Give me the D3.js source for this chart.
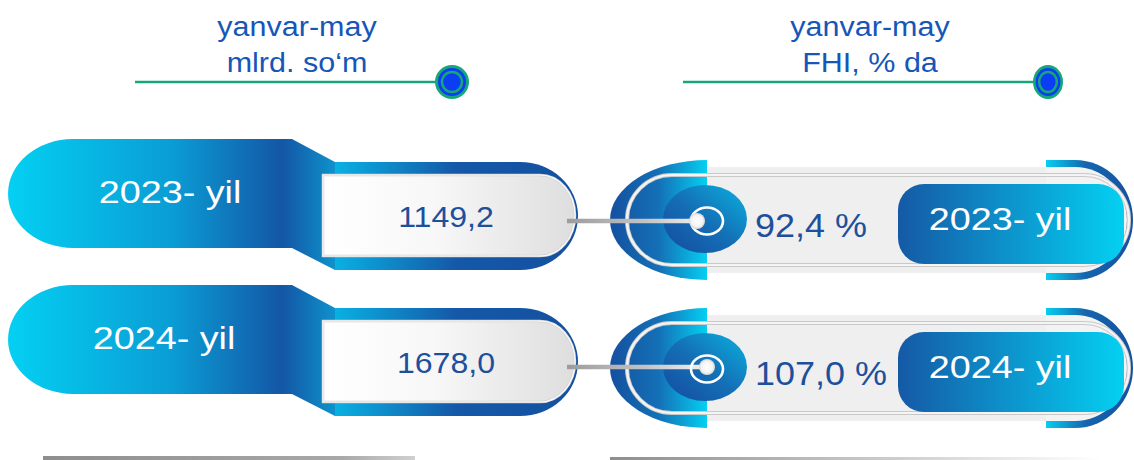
<!DOCTYPE html>
<html>
<head>
<meta charset="utf-8">
<script src="https://cdn.jsdelivr.net/npm/d3@7"></script>
<style>
  body { margin: 0; background: #fff; }
  svg { display: block; font-family: "Liberation Sans", Arial, sans-serif; }
</style>
</head>
<body>
<svg id="chart" width="1134" height="460"></svg>
<script>
// chart data
const years = ["2023- yil", "2024- yil"];
const valuesMlrd = [1149.2, 1678.0];
const valuesPct = [92.4, 107.0];
const headerLeft = ["yanvar-may", "mlrd. so‘m"];
const headerRight = ["yanvar-may", "FHI, % da"];

const locale = d3.formatLocale({ decimal: ",", thousands: "", grouping: [3], currency: ["", ""] });
const fmt = locale.format(".1f");

const darkBlue = "#1556a6";
const cyan = "#04d0f2";
const textBlue = "#1e4f9c";
const green = "#17a67b";

const svg = d3.select("#chart");
const defs = svg.append("defs");

function linGrad(id, x1, x2, stops, y1 = 0, y2 = 0, units = "userSpaceOnUse") {
  const g = defs.append("linearGradient")
    .attr("id", id)
    .attr("gradientUnits", units)
    .attr("x1", x1).attr("x2", x2).attr("y1", y1).attr("y2", y2);
  stops.forEach(([o, c]) => g.append("stop").attr("offset", o).attr("stop-color", c));
  return `url(#${id})`;
}

const pillFill = linGrad("pill", 8, 335, [[0, cyan], [0.5, "#0a9dd5"], [0.84, "#1456a6"], [1, "#0e92cc"]]);
const valueFill = linGrad("valshape", 335, 578, [[0, "#09b0e2"], [0.5, "#1558a8"], [1, "#1450a0"]]);
const whiteFill = linGrad("whitebox", 323, 575, [[0, "#ffffff"], [0.45, "#f7f7f7"], [1, "#dedede"]]);
const capLeftFill = linGrad("capl", 610, 707, [[0, "#1550a0"], [0.5, "#1470b6"], [1, "#05cff2"]]);
const capRightFill = linGrad("capr", 1046, 1133, [[0, "#05cff2"], [0.45, "#1566ae"], [1, "#1550a0"]]);
const ellFill = linGrad("ell", 0, 1, [[0, "#1549a0"], [0.5, "#1470b6"], [1, "#0ab2e0"]], 1, 0, "objectBoundingBox");
const labelFill = linGrad("label", 898, 1124, [[0, "#1559a6"], [1, cyan]]);
const connFill = linGrad("conn", 567, 700, [[0, "#9c9c9c"], [0.6, "#c4c4c4"], [1, "#eeeeee"]]);
const baseLeftFill = linGrad("baseL", 43, 415, [[0, "#8e8e8e"], [0.8, "#a8a8a8"], [1, "#d0d0d0"]]);
const baseRightFill = linGrad("baseR", 610, 1100, [[0, "#8e8e8e"], [0.6, "#cfcfcf"], [1, "#ffffff"]]);

const dotGrad = defs.append("radialGradient").attr("id", "dot");
dotGrad.append("stop").attr("offset", 0).attr("stop-color", "#ffffff");
dotGrad.append("stop").attr("offset", 0.7).attr("stop-color", "#f4f4f4");
dotGrad.append("stop").attr("offset", 1).attr("stop-color", "#d6d6d6");

// headers
function header(lines, cx, lineX1, lineX2, rx) {
  const g = svg.append("g");
  lines.forEach((t, i) => {
    g.append("text")
      .attr("transform", `translate(${cx},${36 + i * 35.5}) scale(1.09,1)`)
      .attr("text-anchor", "middle")
      .attr("font-size", 28)
      .attr("fill", "#1656b9")
      .text(t);
  });
  g.append("line")
    .attr("x1", lineX1).attr("x2", lineX2)
    .attr("y1", 82).attr("y2", 82)
    .attr("stroke", green).attr("stroke-width", 2.5);
  const k = rx / 17;
  g.append("ellipse").attr("cx", lineX2).attr("cy", 82).attr("rx", 17 * k).attr("ry", 17).attr("fill", green);
  g.append("ellipse").attr("cx", lineX2).attr("cy", 82).attr("rx", 14 * k).attr("ry", 14).attr("fill", "#0b3df2");
  g.append("ellipse").attr("cx", lineX2).attr("cy", 82).attr("rx", 10 * k).attr("ry", 10)
    .attr("fill", "#0b3df2").attr("stroke", green).attr("stroke-width", 2.5);
}
header(headerLeft, 297, 135, 452, 17);
header(headerRight, 870, 683, 1048, 15);

// rows: left and right blocks sit on slightly different row pitches
const rowData = years.map((yr, i) => ({ yr, mlrd: valuesMlrd[i], pct: valuesPct[i], i }));
const yL = d3.scaleBand().domain(years).range([139, 139 + 146 * years.length]);
const yR = d3.scaleBand().domain(years).range([139, 139 + 148 * years.length]);

const left = svg.selectAll("g.rowL")
  .data(rowData)
  .join("g")
  .attr("class", "rowL")
  .attr("transform", d => `translate(0,${yL(d.yr)})`);

left.append("path")
  .attr("d", "M73,0 H292 L335,23 V131 L292,109 H73 A65,54.5 0 0 1 73,0 Z")
  .attr("fill", pillFill);

left.append("path")
  .attr("d", "M335,23 H520 A58,54 0 0 1 520,131 H335 Z")
  .attr("fill", valueFill);

left.append("path")
  .attr("d", "M323,36 H540 A35,40.5 0 0 1 540,117 H323 Z")
  .attr("fill", whiteFill)
  .attr("stroke", "#d2d2d2").attr("stroke-width", 2.5);
left.append("path")
  .attr("d", "M323,36 H540 A35,40.5 0 0 1 540,117 H323 Z")
  .attr("fill", "none")
  .attr("stroke", "#fbfbfb").attr("stroke-width", 1.2);

left.append("text")
  .attr("transform", d => `translate(${170 - d.i * 6},64) scale(1.18,1)`)
  .attr("text-anchor", "middle")
  .attr("font-size", 32)
  .attr("fill", "#fff")
  .text(d => d.yr);

left.append("text")
  .attr("transform", "translate(446,88) scale(1.07,1)")
  .attr("text-anchor", "middle")
  .attr("font-size", 30)
  .attr("fill", textBlue)
  .text(d => fmt(d.mlrd));

// right block
const right = svg.selectAll("g.rowR")
  .data(rowData)
  .join("g")
  .attr("class", "rowR")
  .attr("transform", d => `translate(0,${yR(d.yr)})`);

const cy = 81;
right.append("rect")
  .attr("x", 707).attr("y", cy - 53).attr("width", 339).attr("height", 106)
  .attr("fill", "#efefef");

right.append("path")
  .attr("d", `M707,${cy - 60} A97,60 0 0 0 707,${cy + 60} Z`)
  .attr("fill", capLeftFill);

right.append("path")
  .attr("d", `M1046,${cy - 60} H1075 A58,60 0 0 1 1075,${cy + 60} H1046 Z`)
  .attr("fill", capRightFill);
right.append("path")
  .attr("d", `M1046,${cy - 53} H1075 A52,53 0 0 1 1075,${cy + 53} H1046 Z`)
  .attr("fill", "#f3f3f3");

right.append("rect")
  .attr("x", 627).attr("y", cy - 45).attr("width", 502).attr("height", 90)
  .attr("rx", 45).attr("ry", 45)
  .attr("fill", "none").attr("stroke", "#c9c9c9").attr("stroke-width", 4);
right.append("rect")
  .attr("x", 627).attr("y", cy - 45).attr("width", 502).attr("height", 90)
  .attr("rx", 45).attr("ry", 45)
  .attr("fill", "none").attr("stroke", "#f4f4f4").attr("stroke-width", 2.2);

right.append("ellipse")
  .attr("cx", 705).attr("cy", cy - 1).attr("rx", 42).attr("ry", 34)
  .attr("fill", ellFill);

// connector from the value box to the dot (left rows pitch)
right.append("rect")
  .attr("x", 567).attr("y", d => yL(d.yr) - yR(d.yr) + cy - 1.25)
  .attr("width", 133).attr("height", 4.5)
  .attr("fill", connFill);

right.append("ellipse")
  .attr("cx", 707).attr("cy", cy + 1).attr("rx", 16).attr("ry", 13.5)
  .attr("fill", "none").attr("stroke", "#fff").attr("stroke-width", 2.6);

right.append("circle")
  .attr("cx", d => (d.i === 0 ? 697 : 707)).attr("cy", d => yL(d.yr) - yR(d.yr) + cy + 1).attr("r", 8)
  .attr("fill", "url(#dot)");

right.append("text")
  .attr("transform", "translate(755,98) scale(1.09,1)")
  .attr("font-size", 33)
  .attr("fill", textBlue)
  .text(d => `${fmt(d.pct)} %`);

right.append("rect")
  .attr("x", 898).attr("y", 45).attr("width", 226).attr("height", 80)
  .attr("rx", 26).attr("ry", 26)
  .attr("fill", labelFill);

right.append("text")
  .attr("transform", "translate(1000,91) scale(1.18,1)")
  .attr("text-anchor", "middle")
  .attr("font-size", 32)
  .attr("fill", "#fff")
  .text(d => d.yr);

// bottom rules
svg.append("rect").attr("x", 43).attr("y", 456).attr("width", 372).attr("height", 4).attr("fill", baseLeftFill);
svg.append("rect").attr("x", 610).attr("y", 457).attr("width", 490).attr("height", 3).attr("fill", baseRightFill);
</script>
</body>
</html>
